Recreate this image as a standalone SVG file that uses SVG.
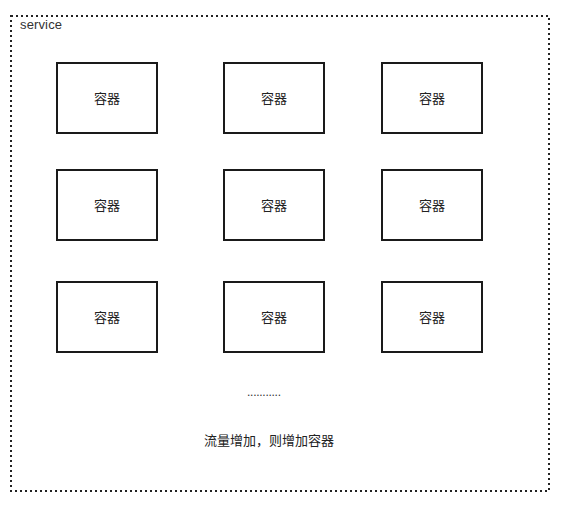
<svg xmlns="http://www.w3.org/2000/svg" width="561" height="506" viewBox="0 0 561 506">
<style>
.box{fill:#fff;stroke:#1a1a1a;stroke-width:2}
.lbl{font-family:"Liberation Sans","Noto Sans CJK SC",sans-serif;font-size:13px;fill:#222;text-anchor:middle;dominant-baseline:central}
</style>
<rect width="561" height="506" fill="#fff"/>
<g id="service">
<rect x="11" y="16" width="538" height="475" fill="none" stroke="#222" stroke-width="2" stroke-dasharray="2 3"/>
<text x="20" y="29" font-family="Liberation Sans, sans-serif" font-size="13" fill="#333" textLength="42" lengthAdjust="spacing">service</text>
</g>
<g id="c11"><rect class="box" x="57" y="63" width="100" height="70"/><text class="lbl" x="107" y="98">容器</text></g>
<g id="c12"><rect class="box" x="224" y="63" width="100" height="70"/><text class="lbl" x="274" y="98">容器</text></g>
<g id="c13"><rect class="box" x="382" y="63" width="100" height="70"/><text class="lbl" x="432" y="98">容器</text></g>
<g id="c21"><rect class="box" x="57" y="170" width="100" height="70"/><text class="lbl" x="107" y="205">容器</text></g>
<g id="c22"><rect class="box" x="224" y="170" width="100" height="70"/><text class="lbl" x="274" y="205">容器</text></g>
<g id="c23"><rect class="box" x="382" y="170" width="100" height="70"/><text class="lbl" x="432" y="205">容器</text></g>
<g id="c31"><rect class="box" x="57" y="282" width="100" height="70"/><text class="lbl" x="107" y="317">容器</text></g>
<g id="c32"><rect class="box" x="224" y="282" width="100" height="70"/><text class="lbl" x="274" y="317">容器</text></g>
<g id="c33"><rect class="box" x="382" y="282" width="100" height="70"/><text class="lbl" x="432" y="317">容器</text></g>
<g id="note">
<text x="247" y="396" font-family="Liberation Sans, sans-serif" font-size="12" fill="#333" textLength="34" lengthAdjust="spacing">...........</text>
<text class="lbl" x="269" y="440">流量增加，则增加容器</text>
</g>
<g id="connectors"></g>
</svg>
